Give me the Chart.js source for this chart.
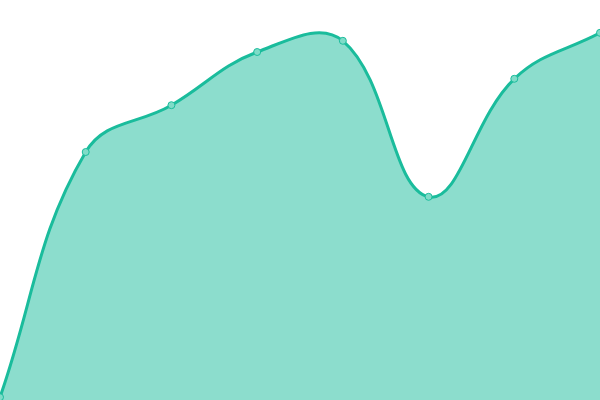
<!DOCTYPE html>
<html>
<head>
<meta charset="utf-8">
<script src="https://cdn.jsdelivr.net/npm/chart.js@4"></script>
<style>
  html, body { margin: 0; padding: 0; background: #fff; }
  #wrap { width: 600px; height: 400px; }
</style>
</head>
<body>
<div id="wrap"><canvas id="areaChart"></canvas></div>
<script>
const labels = ["1", "2", "3", "4", "5", "6", "7", "8"];
const values = [0.7, 62, 73.7, 87, 89.8, 50.8, 80.3, 91.8];

const ctx = document.getElementById("areaChart").getContext("2d");
new Chart(ctx, {
  type: 'line',
  data: {
    labels,
    datasets: [{
      data: values,
      borderColor: "#1abc9c",
      backgroundColor: "rgba(26,188,156,0.5)",
      borderWidth: 3,
      fill: true,
      tension: 0.4,
      pointRadius: 3.5,
      pointBorderWidth: 1,
      pointBackgroundColor: "#7fdcc8",
      pointBorderColor: "#1abc9c"
    }]
  },
  options: {
    responsive: true,
    maintainAspectRatio: false,
    animation: false,
    layout: { padding: 0, autoPadding: false },
    plugins: { legend: { display: false }, tooltip: { enabled: false } },
    scales: {
      x: { display: false },
      y: { display: false, min: 0, max: 100 }
    }
  }
});
</script>
</body>
</html>
